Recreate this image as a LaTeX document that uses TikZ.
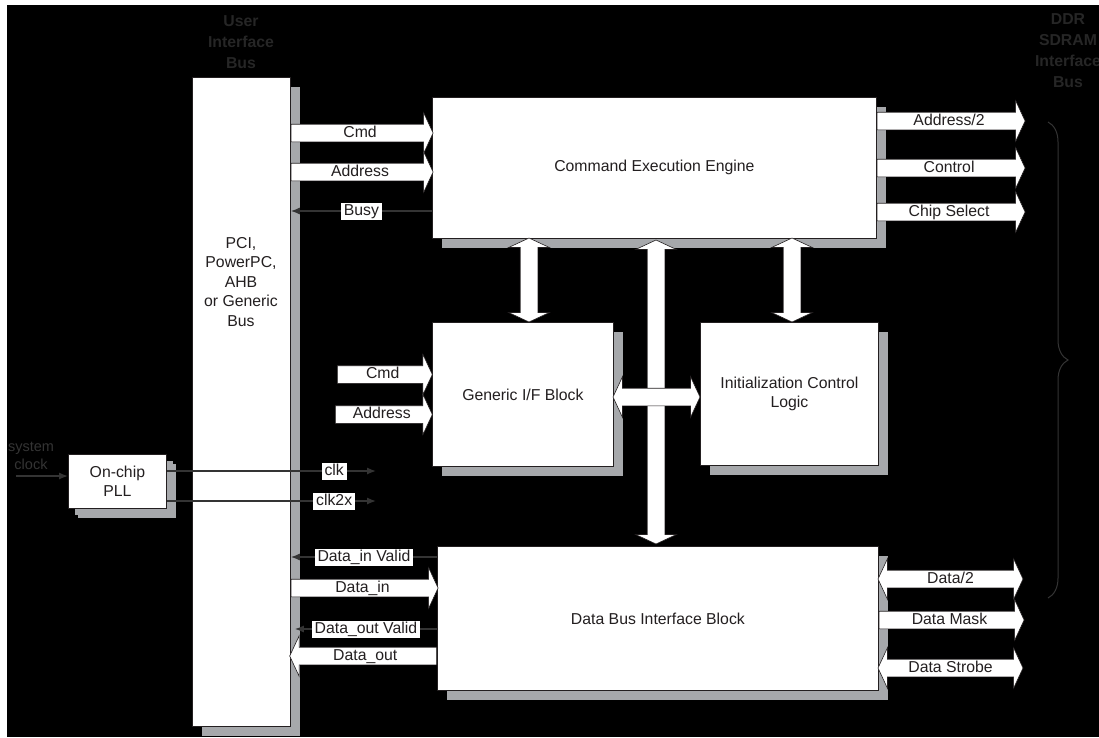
\documentclass[tikz,border=0pt]{standalone}
\usepackage{fontspec}
\setmainfont{Liberation Sans}
\usetikzlibrary{arrows.meta, shapes.arrows, shadows, decorations.pathreplacing}
\definecolor{shade}{RGB}{166,168,171}
\definecolor{ink}{RGB}{35,31,32}
\definecolor{wire}{RGB}{52,52,52}
\definecolor{headtext}{RGB}{38,38,38}

\begin{document}
\begin{tikzpicture}[x=1pt, y=-1pt,
		font=\fontsize{15.8}{19.5}\selectfont,
		block/.style={draw=ink, fill=white, line width=0.8pt, anchor=north west, inner sep=0pt,
			text=ink, align=center, drop shadow={shadow xshift=10pt, shadow yshift=-10pt, fill=shade, opacity=1}},
		fat/.style={single arrow, draw=ink, fill=white, line width=0.6pt, text=ink,
			inner xsep=2pt, inner ysep=1.5pt, text height=11pt, text depth=3pt,
			single arrow head extend=11.5pt, single arrow tip angle=130},
		fatboth/.style={double arrow, draw=ink, fill=white, line width=0.6pt, text=ink,
			inner xsep=2pt, inner ysep=1.5pt, text height=11pt, text depth=3pt,
			double arrow head extend=11.5pt, double arrow tip angle=130},
		sig/.style={draw=wire, line width=1.3pt, -{Latex[length=9pt, width=7pt]}},
		tag/.style={fill=white, text=ink, inner xsep=3pt, inner ysep=1.5pt, text height=11pt, text depth=3pt},
		head/.style={text=headtext, font=\fontsize{15.8}{21}\selectfont\bfseries, align=center}
	]
	\useasboundingbox (0,0) rectangle (1099,737);
	\fill[white] (0,0) rectangle (1099,737);
	\fill[black] (7,5) rectangle (1099,737);
	
	\node[head] (uib) at (241,42) {User\\Interface\\Bus};
	\node[head] (ddr) at (1068,51) {DDR\\SDRAM\\Interface\\Bus};
	
	\node[block, minimum width=98pt, minimum height=649pt] (bus) at (192,77) {};
	\node[text=ink, align=center] (bustext) at (241,282) {PCI,\\PowerPC,\\AHB\\or Generic\\Bus};
	\node[block, minimum width=444pt, minimum height=141pt] (eng) at (432,97) {Command Execution Engine};
	\node[block, minimum width=181pt, minimum height=144pt] (gen) at (432,322) {Generic I/F Block};
	\node[block, minimum width=178pt, minimum height=143pt] (init) at (700,322) {Initialization Control\\Logic};
	\node[block, minimum width=441pt, minimum height=144pt] (dbus) at (437,546) {Data Bus Interface Block};
	\node[block, minimum width=98pt, minimum height=54pt,
		drop shadow={shadow xshift=7pt, shadow yshift=-7pt, fill=shade, opacity=1}] (pll) at (68,454) {On-chip\\PLL};
	
	\node[fat, anchor=tail, minimum height=142pt] (cmd) at (bus.east |- 0,133) {Cmd};
	\node[fat, anchor=tail, minimum height=142pt] (addr) at (bus.east |- 0,172) {Address};
	\draw[sig] (eng.west |- 0,211) -- (bus.east |- 0,211) node[tag, midway] (busy) {Busy};
	
	\foreach \y/\txt in {121/{Address/2}, 168/Control, 212/{Chip Select}}{
		\node[fat, anchor=tail, minimum height=148pt] (out\y) at (eng.east |- 0,\y) {\txt};
	}
	
	\coordinate (gcmd) at (337,374.5);
	\coordinate (gaddr) at (335,414.5);
	\node[fat, anchor=tail, minimum height=95pt] (gcmdA) at (gcmd) {Cmd};
	\node[fat, anchor=tail, minimum height=97pt] (gaddrA) at (gaddr) {Address};
	
	\node[fatboth, rotate=90, minimum height=84pt] (engGen) at (529,280) {};
	\node[fatboth, rotate=90, minimum height=84pt] (engInit) at (792,280) {};
	\node[fatboth, rotate=90, minimum height=304pt] (engData) at (656,392) {};
	\node[fatboth, minimum height=87pt] (genInit) at (656.5,397) {};
	
	\draw[sig] (dbus.west |- 0,557) -- (bus.east |- 0,557) node[tag, midway] (dinv) {Data\_in Valid};
	\node[fat, anchor=tail, minimum height=147pt] (din) at (bus.east |- 0,588) {Data\_in};
	\draw[sig] (dbus.west |- 0,629) -- ([xshift=4pt]bus.east |- 0,629) node[tag, midway] (doutv) {Data\_out Valid};
	\node[fat, shape border rotate=180, anchor=tail, minimum height=147pt] (dout) at (dbus.west |- 0,656) {Data\_out};
	
	\node[fatboth, minimum height=145pt] (data2) at (950.5,579) {Data/2};
	\node[fat, anchor=tail, minimum height=145pt] (mask) at (dbus.east |- 0,620) {Data Mask};
	\node[fatboth, minimum height=145pt] (strobe) at (950.5,668) {Data Strobe};
	
	\node[text=wire, align=center, font=\fontsize{14.5}{18}\selectfont] (sysclk) at (31,456) {system\\clock};
	\coordinate (clkin) at (16,476);
	\draw[sig] (clkin) -- (pll.west |- 0,476);
	\coordinate (clkend) at (376,471);
	\coordinate (clkxend) at (376,501);
	\draw[sig] (pll.east |- clkend) -- (clkend) node[tag, pos=.8] (clk) {clk};
	\draw[sig] (pll.east |- clkxend) -- (clkxend) node[tag, pos=.8] (clkx) {clk2x};
	
	\coordinate (bt) at (1048,122);
	\coordinate (bb) at (1048,598);
	\draw[wire, line width=1pt, decorate, decoration={brace, amplitude=20pt}] (bt) -- (bb);
\end{tikzpicture}
\end{document}
